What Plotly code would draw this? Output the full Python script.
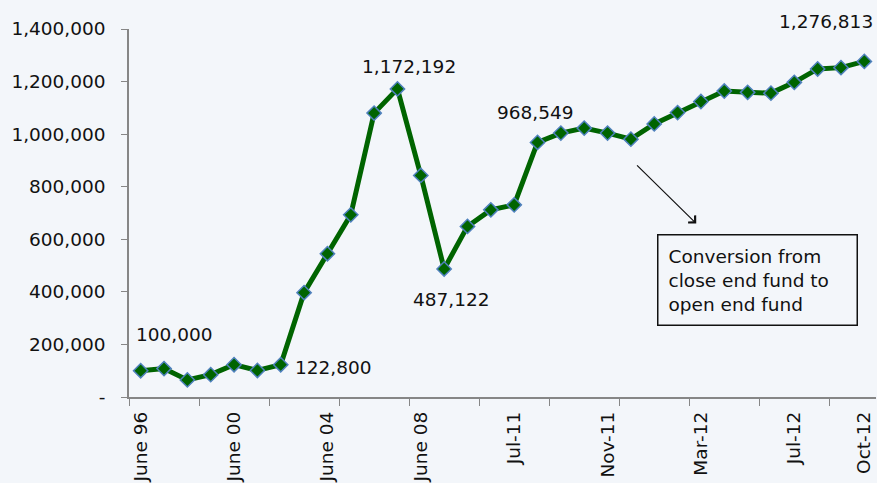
import plotly.graph_objects as go

categories = ["June 96", "June 97", "June 98", "June 99", "June 00", "June 01", "June 02", "June 03",
              "June 04", "June 05", "June 06", "June 07", "June 08", "June 09", "June 10", "June 11",
              "Jul-11", "Aug-11", "Sep-11", "Oct-11", "Nov-11", "Dec-11", "Jan-12", "Feb-12",
              "Mar-12", "Apr-12", "May-12", "Jun-12", "Jul-12", "Aug-12", "Sep-12", "Oct-12"]
values = [100000, 108000, 65000, 85000, 123000, 101000, 122800, 397000,
          545000, 693000, 1080000, 1172192, 843000, 487122, 649000, 712000,
          731000, 968549, 1004000, 1023000, 1004000, 981000, 1039000, 1082000,
          1124000, 1164000, 1159000, 1156000, 1197000, 1248000, 1253000, 1276813]
label_categories = ["June 96", "June 00", "June 04", "June 08", "Jul-11", "Nov-11", "Mar-12", "Jul-12", "Oct-12"]
y_ticks = [0, 200000, 400000, 600000, 800000, 1000000, 1200000, 1400000]
labeled_points = ["June 96", "June 02", "June 07", "June 09", "Aug-11", "Oct-12"]
note_text = "Conversion from<br>close end fund to<br>open end fund"

FONT = "DejaVu Sans"
BG = "#F3F6FA"
FS = 18.5
x_idx = list(range(len(categories)))

fig = go.Figure()
fig.add_trace(go.Scatter(
    x=x_idx, y=values, mode="lines+markers",
    line=dict(color="#006400", width=5),
    marker=dict(symbol="diamond", size=11, color="#006400",
                line=dict(color="#4F81BD", width=1.5)),
    hoverinfo="skip", showlegend=False,
))
# invisible trace on second x axis to carry labels
fig.add_trace(go.Scatter(x=[x_idx[0]], y=[values[0]], xaxis="x2", mode="markers",
                         marker=dict(opacity=0), showlegend=False, hoverinfo="skip"))

shifts = [(34, 36), (53, -3), (12, 22), (7, -31), (-2, 30), (-38, 40)]
annotations = []
for cat, (dx, dy) in zip(labeled_points, shifts):
    i = categories.index(cat)
    annotations.append(dict(x=i, y=values[i], xref="x", yref="y", text=f"{values[i]:,}",
                            showarrow=False, xshift=dx, yshift=dy,
                            font=dict(family=FONT, size=FS, color="#111111")))

annotations.append(dict(x=23.8, y=660000, ax=21.2, ay=887000, xref="x", yref="y",
                        axref="x", ayref="y", text="", showarrow=True, arrowhead=4,
                        arrowsize=1.6, arrowwidth=1.2, arrowcolor="#111111"))
annotations.append(dict(x=26.42, y=444500, xref="x", yref="y", text=note_text, showarrow=False,
                        xanchor="center", yanchor="middle", align="left",
                        width=178, borderpad=10, bordercolor="#111111", borderwidth=1.5,
                        bgcolor=BG, font=dict(family=FONT, size=FS, color="#111111")))

boundaries = [b - 0.5 for b in range(0, len(categories), 3)]

fig.update_layout(
    width=877, height=483,
    margin=dict(l=129, r=1, t=29, b=86, autoexpand=False),
    paper_bgcolor=BG, plot_bgcolor=BG,
    font=dict(family=FONT, size=FS, color="#111111"),
    xaxis=dict(range=[-0.5, len(categories) - 0.5], tickmode="array", tickvals=boundaries,
               showticklabels=False, ticks="outside", ticklen=7, tickcolor="#868686",
               automargin=False,
               showline=True, linecolor="#868686", linewidth=1.5, showgrid=False, zeroline=False),
    xaxis2=dict(overlaying="x", anchor="y", side="bottom", range=[-0.5, len(categories) - 0.5],
                tickmode="array", tickvals=[categories.index(c) for c in label_categories],
                ticktext=label_categories, tickangle=-90, ticks="", showline=False,
                showgrid=False, zeroline=False, ticklabelstandoff=10, automargin=False,
                tickfont=dict(family=FONT, size=FS, color="#111111")),
    yaxis=dict(range=[0, 1400000], tickmode="array", tickvals=y_ticks,
               ticktext=["-" if v == 0 else f"{v:,}" for v in y_ticks],
               ticks="outside", ticklen=6, tickcolor="#868686", ticklabelstandoff=12,
               automargin=False,
               showline=True, linecolor="#868686", linewidth=1.5, showgrid=False, zeroline=False),
    annotations=annotations,
)

fig.write_html("out.html", config={"displayModeBar": False},
               post_script="document.body.style.margin='0';document.body.style.background='#F3F6FA';")
